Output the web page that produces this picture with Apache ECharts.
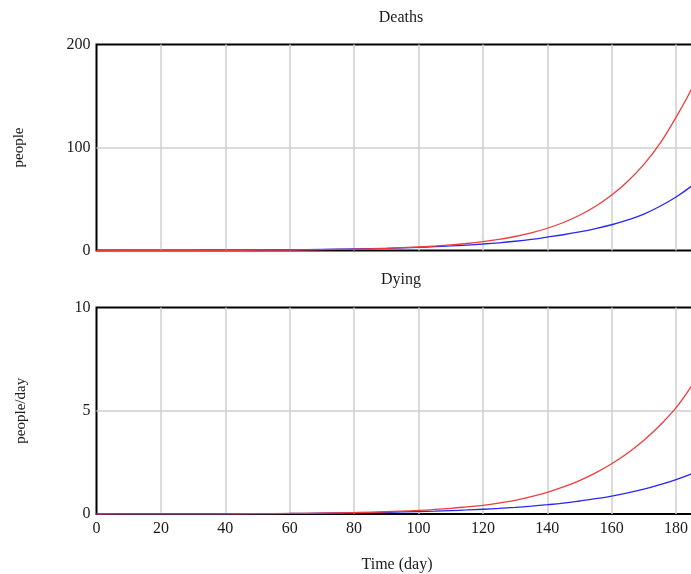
<!DOCTYPE html>
<html>
<head>
<meta charset="utf-8">
<script src="https://cdn.jsdelivr.net/npm/echarts@6/dist/echarts.min.js"></script>
<style>
  html, body { margin: 0; padding: 0; overflow: hidden; background: #fff; }
  #chart { width: 800px; height: 574px; }
</style>
</head>
<body>
<div id="chart"></div>
<script>
// Simulation time (days)
const days = [0, 10, 20, 30, 40, 50, 60, 70, 80, 90, 100, 105, 110, 115, 120, 125, 130, 135, 140,
              145, 150, 155, 160, 165, 170, 175, 180, 185, 190];

// Cumulative deaths (people), two runs
const deathsRed  = [0, 0.04, 0.07, 0.12, 0.19, 0.31, 0.5, 0.82, 1.32, 2.12, 3.4, 4.3, 5.4, 6.8, 8.6, 10.8,
                    13.6, 17.1, 21.6, 27.2, 34.2, 43, 53.8, 67.2, 83.6, 104, 129.5, 158, 193];
const deathsBlue = [0, 0.04, 0.1, 0.18, 0.3, 0.45, 0.68, 1.0, 1.5, 2.15, 3.1, 3.7, 4.4, 5.3, 6.3, 7.5,
                    9.0, 10.8, 13, 15.3, 18, 21.2, 25, 29.7, 35.4, 43, 52, 63, 76];

// Death rate (people/day), two runs
const dyingRed  = [0, 0.002, 0.004, 0.006, 0.01, 0.017, 0.028, 0.044, 0.07, 0.11, 0.175, 0.22, 0.275,
                   0.345, 0.42, 0.53, 0.665, 0.84, 1.05, 1.31, 1.62, 1.99, 2.43, 2.95, 3.57, 4.3, 5.15, 6.25, 7.5];
const dyingBlue = [0, 0.002, 0.005, 0.008, 0.012, 0.018, 0.027, 0.04, 0.06, 0.085, 0.12, 0.14, 0.165,
                   0.195, 0.23, 0.27, 0.32, 0.38, 0.45, 0.53, 0.63, 0.74, 0.87, 1.02, 1.2, 1.42, 1.67, 1.96, 2.3];

// Axis ticks
const timeTicks = { min: 0, max: 200, interval: 20 };
const deathsTicks = { min: 0, max: 200, interval: 100 };
const dyingTicks = { min: 0, max: 10, interval: 5 };

const pair = (xs, ys) => xs.map((x, i) => [x, ys[i]]);

const FONT = '"Liberation Serif", "Times New Roman", serif';
const TXT = '#1a1a1a';
const RED = '#f03c3c';
const BLUE = '#2828f0';

const chart = echarts.init(document.getElementById('chart'), null, { renderer: 'canvas' });

// Inner grid lines only; the frame comes from the grid border
const gridLine = { show: true, showMinLine: false, showMaxLine: false,
                   lineStyle: { color: '#cfcfcf', width: 1.5 } };

function xAxis(gridIndex, showLabels) {
  return {
    type: 'value', gridIndex,
    min: timeTicks.min, max: timeTicks.max, interval: timeTicks.interval,
    axisLine: { show: false }, axisTick: { show: false },
    splitLine: gridLine,
    axisLabel: { show: showLabels, color: TXT, fontFamily: FONT, fontSize: 16, margin: 7 },
    name: showLabels ? 'Time (day)' : '',
    nameLocation: 'middle', nameGap: 43,
    nameTextStyle: { color: TXT, fontFamily: FONT, fontSize: 16, padding: [0, 43, 0, 0] }
  };
}

function yAxis(gridIndex, ticks, name, gap) {
  return {
    type: 'value', gridIndex,
    min: ticks.min, max: ticks.max, interval: ticks.interval,
    axisLine: { show: false }, axisTick: { show: false },
    splitLine: gridLine,
    axisLabel: { color: TXT, fontFamily: FONT, fontSize: 16, margin: 6 },
    name, nameLocation: 'middle', nameGap: gap, nameRotate: 90,
    nameTextStyle: { color: TXT, fontFamily: FONT, fontSize: 15 }
  };
}

function line(xIdx, yIdx, data, color) {
  return {
    type: 'line', xAxisIndex: xIdx, yAxisIndex: yIdx,
    data, smooth: 0.4, showSymbol: false, silent: true,
    lineStyle: { color, width: 1.3 }
  };
}

chart.setOption({
  animation: false,
  backgroundColor: '#fff',
  title: [
    { text: 'Deaths', left: 396, top: 5, textAlign: 'center',
      textStyle: { color: TXT, fontFamily: FONT, fontSize: 16, fontWeight: 'normal' } },
    { text: 'Dying', left: 396, top: 267, textAlign: 'center',
      textStyle: { color: TXT, fontFamily: FONT, fontSize: 16, fontWeight: 'normal' } }
  ],
  grid: [
    { left: 96.5, top: 44.5, width: 644, height: 206, show: true, borderColor: '#000', borderWidth: 2, containLabel: false },
    { left: 96.5, top: 307.5, width: 644, height: 206.5, show: true, borderColor: '#000', borderWidth: 2, containLabel: false }
  ],
  xAxis: [xAxis(0, false), xAxis(1, true)],
  yAxis: [yAxis(0, deathsTicks, 'people', 70), yAxis(1, dyingTicks, 'people/day', 68)],
  series: [
    line(0, 0, pair(days, deathsBlue), BLUE),
    line(0, 0, pair(days, deathsRed), RED),
    line(1, 1, pair(days, dyingBlue), BLUE),
    line(1, 1, pair(days, dyingRed), RED)
  ]
});
</script>
</body>
</html>
